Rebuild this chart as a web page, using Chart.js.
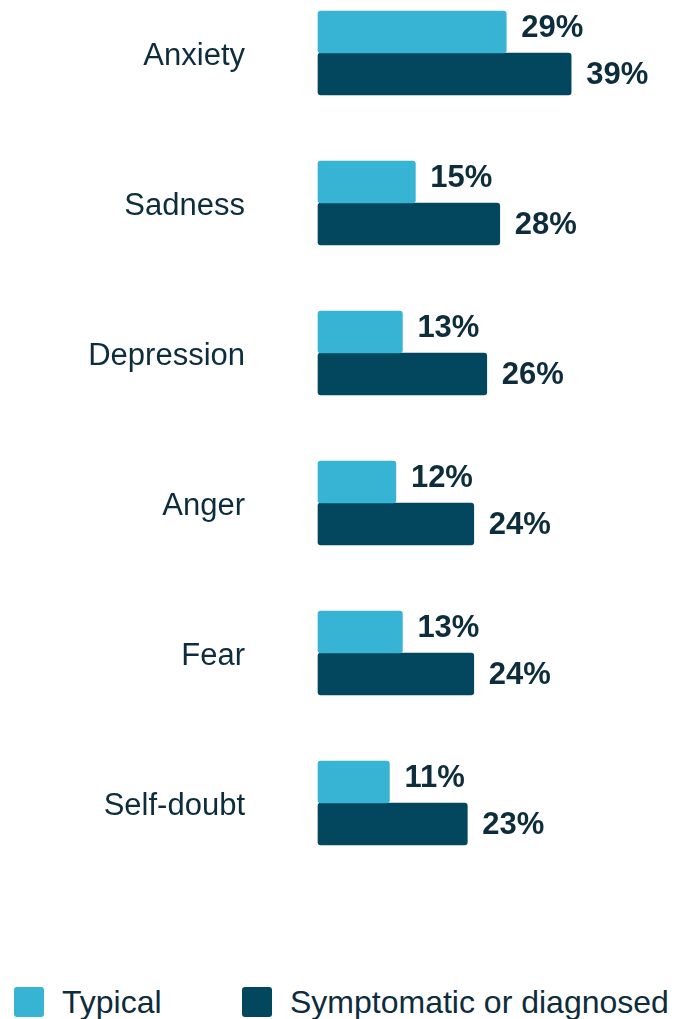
<!DOCTYPE html>
<html>
<head>
<meta charset="utf-8">
<script src="https://cdn.jsdelivr.net/npm/chart.js@4.4.1/dist/chart.umd.min.js"></script>
<style>
  body { margin: 0; background: #fff; font-family: "Liberation Sans", Arial, sans-serif; }
  #wrap { position: relative; width: 678px; height: 960px; }
  .legend { position: absolute; top: 984px; left: 0; width: 678px; height: 35px; }
  .legend .box { position: absolute; top: 3px; width: 30px; height: 30px; border-radius: 3px; }
  .legend .txt { position: absolute; top: 0; font-size: 32px; line-height: 36px; color: #0d2c3c; white-space: nowrap; }
</style>
</head>
<body>
<div id="wrap"><canvas id="emotionsChart"></canvas></div>
<div class="legend" id="legend"></div>
<script>
const categories = ['Anxiety', 'Sadness', 'Depression', 'Anger', 'Fear', 'Self-doubt'];
const typical = [29, 15, 13, 12, 13, 11];
const symptomatic = [39, 28, 26, 24, 24, 23];
const seriesNames = ['Typical', 'Symptomatic or diagnosed'];

const lightBlue = '#37b4d3';
const darkBlue = '#03475f';
const textColor = '#0d2c3c';

// draws the % next to every bar
const valueLabels = {
    id: 'valueLabels',
    afterDatasetsDraw(chart) {
        const ctx = chart.ctx;
        ctx.save();
        ctx.font = 'bold 31px "Liberation Sans", Arial, sans-serif';
        ctx.fillStyle = textColor;
        ctx.textAlign = 'left';
        ctx.textBaseline = 'middle';
        chart.data.datasets.forEach((ds, di) => {
            const meta = chart.getDatasetMeta(di);
            meta.data.forEach((bar, i) => {
                const shift = di === 0 ? -4 : 1;
                ctx.fillText(ds.data[i] + '%', bar.x + 15, bar.y + shift);
            });
        });
        ctx.restore();
    }
};

window.addEventListener('DOMContentLoaded', event => {
    addChart();
    addLegend();
});

function addChart(){
    const ctx = document.getElementById('emotionsChart');
    new Chart(ctx, {
        type: 'bar',
        data: {
            labels: categories,
            datasets: [{
                label: seriesNames[0],
                data: typical,
                backgroundColor: lightBlue,
                barThickness: 42,
                borderRadius: 3,
                borderSkipped: false,
                clip: false
            }, {
                label: seriesNames[1],
                data: symptomatic,
                backgroundColor: darkBlue,
                barThickness: 42,
                borderRadius: 3,
                borderSkipped: false,
                clip: false
            }]
        },
        options: {
            indexAxis: 'y',
            responsive: true,
            maintainAspectRatio: false,
            animation: false,
            layout: {
                padding: { top: 53, bottom: 157, left: 0, right: 3 }
            },
            plugins: {
                legend: { display: false },
                tooltip: { enabled: false }
            },
            scales: {
                x: {
                    display: false,
                    min: 0,
                    max: 55
                },
                y: {
                    offset: false,
                    grid: { display: false, drawTicks: false, offset: false },
                    border: { display: false },
                    ticks: {
                        padding: 73,
                        labelOffset: 3,
                        color: textColor,
                        font: { family: '"Liberation Sans", Arial, sans-serif', size: 31 }
                    },
                    afterFit: scale => {
                        scale.width = 318;
                        // tick padding would otherwise push the plot down
                        scale.paddingTop = 0;
                        scale.paddingBottom = 0;
                    }
                }
            }
        },
        plugins: [valueLabels]
    });
}

function addLegend(){
    const legend = document.getElementById('legend');
    const colors = [lightBlue, darkBlue];
    const starts = [14, 242];
    seriesNames.forEach((name, i) => {
        const box = document.createElement('span');
        box.className = 'box';
        box.style.left = starts[i] + 'px';
        box.style.background = colors[i];
        const txt = document.createElement('span');
        txt.className = 'txt';
        txt.style.left = (starts[i] + 48) + 'px';
        txt.textContent = name;
        legend.appendChild(box);
        legend.appendChild(txt);
    });
}
</script>
</body>
</html>
